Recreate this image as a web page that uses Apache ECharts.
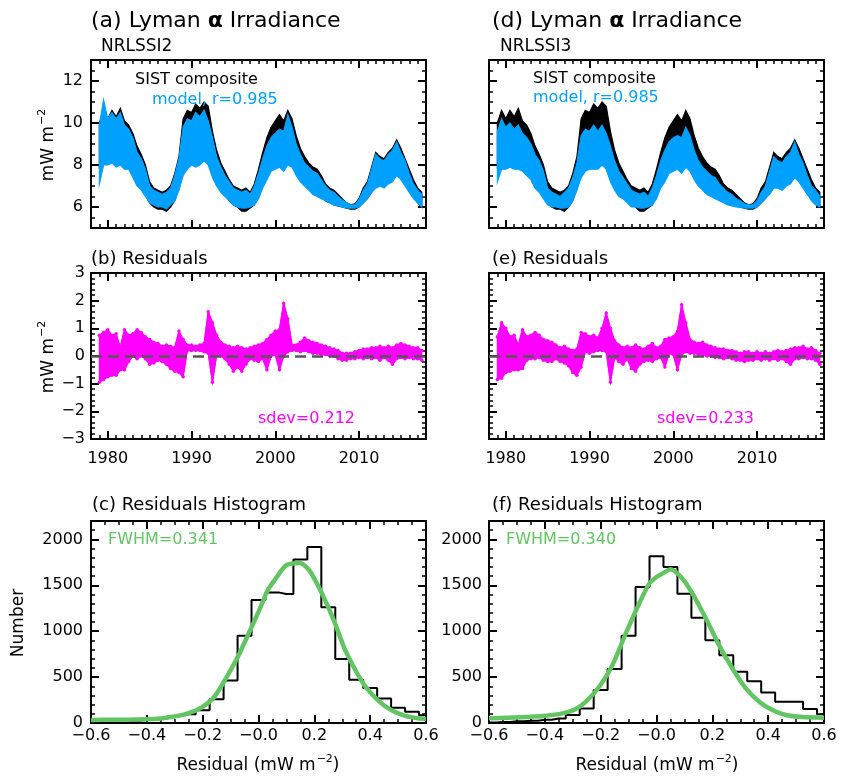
<!DOCTYPE html>
<html>
<head>
<meta charset="utf-8">
<script src="https://cdn.jsdelivr.net/npm/echarts@6/dist/echarts.min.js"></script>
<style>
html,body{margin:0;padding:0;background:#fff}
#chart{width:845px;height:778px}
</style>
</head>
<body>
<div id="chart"></div>
<script>
// Lyman alpha irradiance: SIST composite vs NRLSSI2 / NRLSSI3 models, residuals and residual histograms.
const FONT = '"DejaVu Sans", Verdana, sans-serif';
const BLUE = '#00a0ff', MAGENTA = '#ff00ff', GREEN = '#62c462';

// Half-year blocks starting 1979.0: upper and lower envelope of the daily values (mW m-2)
const BLOCK_START = 1979.0;
const BLOCK_STEP = 0.5;

const compositeHi = [
  10.0, 10.6, 10.2, 10.6, 10.3, 10.7, 10.1, 9.9, 9.5, 8.9,
  8.5, 8.0, 7.2, 6.9, 6.8, 6.7, 6.8, 7.0, 7.6, 8.4,
  10.2, 10.6, 10.5, 10.9, 10.7, 11.0, 10.8, 9.6, 8.7, 8.1,
  7.7, 7.3, 7.0, 6.9, 6.8, 6.9, 6.7, 7.1, 7.8, 8.6,
  9.3, 9.8, 10.1, 10.4, 10.1, 10.6, 10.2, 9.4, 8.8, 8.4,
  8.1, 7.9, 7.8, 7.5, 7.1, 6.9, 6.8, 6.6, 6.4, 6.2,
  6.1, 6.15, 6.4, 6.9, 7.2, 7.9, 8.6, 8.4, 8.3, 8.6,
  8.8, 9.2, 8.8, 8.3, 7.8, 7.3, 6.9, 6.7
];
const compositeLo = [
  7.9, 8.2, 8.1, 8.3, 8.0, 8.2, 8.0, 7.9, 7.6, 7.1,
  7.0, 6.6, 6.2, 6.0, 5.9, 5.9, 5.8, 6.0, 6.3, 6.9,
  7.6, 8.3, 8.3, 8.2, 8.3, 8.5, 8.3, 7.6, 7.2, 6.8,
  6.6, 6.3, 6.1, 6.0, 5.8, 5.8, 5.95, 6.1, 6.5, 7.0,
  7.5, 7.9, 8.0, 8.1, 7.9, 8.3, 8.2, 7.7, 7.3, 7.1,
  6.9, 6.8, 6.6, 6.5, 6.3, 6.2, 6.1, 6.05, 6.0, 5.95,
  5.9, 5.9, 6.0, 6.2, 6.4, 6.7, 7.0, 7.1, 7.0, 7.2,
  7.3, 7.6, 7.4, 7.1, 6.8, 6.5, 6.2, 6.0
];
const nrlssi2Hi = [
  9.9, 11.1, 10.2, 10.5, 10.2, 10.5, 9.9, 9.7, 9.3, 8.6,
  8.3, 7.8, 7.0, 6.8, 6.7, 6.6, 6.7, 6.9, 7.5, 8.3,
  9.8, 10.2, 10.1, 10.5, 10.3, 10.6, 10.1, 9.3, 8.4, 7.9,
  7.5, 7.2, 6.9, 6.8, 6.7, 6.8, 6.6, 7.0, 7.6, 8.3,
  8.9, 9.3, 9.5, 9.7, 9.6, 10.4, 9.8, 9.0, 8.5, 8.1,
  7.9, 7.7, 7.6, 7.3, 7.0, 6.8, 6.7, 6.5, 6.35, 6.2,
  6.1, 6.1, 6.35, 6.8, 7.1, 7.8, 8.5, 8.3, 8.2, 8.5,
  8.7, 9.1, 8.6, 8.2, 7.6, 7.1, 6.8, 6.6
];
const nrlssi2Lo = [
  7.1, 8.0, 8.0, 8.1, 7.9, 8.0, 7.8, 7.8, 7.4, 7.0,
  6.8, 6.5, 6.2, 6.1, 6.0, 6.0, 5.9, 6.1, 6.3, 6.8,
  7.5, 7.8, 8.0, 7.9, 8.0, 8.2, 8.0, 7.4, 7.0, 6.7,
  6.5, 6.3, 6.1, 6.0, 5.95, 5.95, 6.0, 6.1, 6.4, 6.9,
  7.3, 7.7, 7.8, 7.9, 7.7, 8.0, 7.9, 7.5, 7.2, 7.0,
  6.8, 6.6, 6.5, 6.4, 6.3, 6.2, 6.1, 6.05, 6.0, 5.95,
  5.95, 5.95, 6.0, 6.2, 6.4, 6.7, 6.9, 7.0, 6.9, 7.1,
  7.2, 7.5, 7.3, 7.0, 6.7, 6.4, 6.2, 6.0
];
const nrlssi3Hi = [
  9.6, 10.2, 9.8, 10.0, 9.7, 9.9, 9.5, 9.3, 9.0, 8.5,
  8.2, 7.7, 6.9, 6.7, 6.6, 6.5, 6.7, 6.9, 7.4, 8.1,
  9.4, 9.7, 9.6, 9.9, 9.6, 9.9, 9.5, 8.9, 8.2, 7.7,
  7.4, 7.1, 6.8, 6.7, 6.6, 6.7, 6.5, 6.9, 7.5, 8.2,
  8.7, 9.1, 9.3, 9.4, 9.3, 9.8, 9.4, 8.7, 8.2, 7.9,
  7.7, 7.5, 7.4, 7.1, 6.9, 6.7, 6.6, 6.4, 6.3, 6.15,
  6.1, 6.1, 6.3, 6.7, 7.0, 7.7, 8.4, 8.2, 8.1, 8.4,
  8.6, 9.1, 8.5, 8.1, 7.5, 7.0, 6.8, 6.5
];
const nrlssi3Lo = [
  7.2, 7.8, 7.8, 7.9, 7.8, 7.8, 7.7, 7.5, 7.3, 6.9,
  6.7, 6.4, 6.1, 6.0, 6.0, 5.95, 5.95, 6.0, 6.3, 6.8,
  7.4, 7.7, 7.8, 7.8, 7.8, 8.0, 7.8, 7.2, 6.8, 6.5,
  6.4, 6.2, 6.0, 6.0, 5.95, 5.95, 6.0, 6.1, 6.4, 6.9,
  7.2, 7.6, 7.7, 7.8, 7.6, 7.9, 7.7, 7.3, 7.0, 6.8,
  6.6, 6.5, 6.4, 6.3, 6.2, 6.1, 6.05, 6.0, 5.98, 5.95,
  5.95, 5.95, 6.0, 6.2, 6.4, 6.6, 6.9, 6.9, 6.8, 7.0,
  7.1, 7.4, 7.2, 6.9, 6.6, 6.3, 6.1, 6.0
];

// Residuals (composite minus model), same half-year blocks
const resid2Hi = [
  0.75, 0.85, 0.95, 0.75, 0.8, 0.3, 0.95, 0.75, 0.8, 0.95,
  0.85, 0.7, 0.6, 0.5, 0.45, 0.35, 0.4, 0.35, 0.3, 0.9,
  0.6, 0.4, 0.4, 0.35, 0.4, 0.45, 1.6, 1.2, 0.75, 0.5,
  0.4, 0.35, 0.3, 0.35, 0.3, 0.25, 0.3, 0.35, 0.4, 0.45,
  0.6, 0.75, 0.9, 0.95, 1.9, 1.35, 0.4, 0.4, 0.5, 0.65,
  0.55, 0.5, 0.45, 0.4, 0.35, 0.3, 0.25, 0.2, 0.1, 0.1,
  0.1, 0.15, 0.2, 0.25, 0.25, 0.3, 0.3, 0.35, 0.3, 0.35,
  0.3, 0.4, 0.45, 0.4, 0.35, 0.3, 0.3, 0.2
];
const resid2Lo = [
  -0.95, -0.85, -0.75, -0.7, -0.7, -0.5, -0.5, -0.2, 0.0, -0.1,
  0.0, -0.1, -0.3, -0.25, -0.15, -0.2, -0.3, -0.45, -0.55, -0.6,
  -0.75, 0.2, 0.2, 0.2, 0.2, 0.15, 0.1, -0.95, 0.05, 0.0,
  -0.1, -0.3, -0.55, -0.4, -0.55, -0.3, -0.1, -0.15, -0.2, -0.1,
  -0.5, 0.0, 0.05, -0.5, 0.0, 0.15, 0.2, 0.2, 0.15, 0.2,
  0.15, 0.1, 0.1, 0.05, 0.05, 0.0, 0.0, -0.1, -0.15, -0.15,
  -0.1, -0.1, -0.05, -0.1, -0.05, -0.1, -0.05, -0.15, -0.05, -0.15,
  -0.3, -0.1, -0.05, -0.1, -0.05, -0.1, -0.1, -0.15
];
const resid3Hi = [
  0.7, 1.2, 1.0, 0.7, 0.75, 0.4, 0.95, 0.7, 0.75, 0.85,
  0.75, 0.6, 0.55, 0.5, 0.4, 0.3, 0.35, 0.25, 0.2, 0.25,
  0.85, 0.8, 0.7, 0.75, 0.65, 1.0, 1.55, 1.0, 0.55, 0.4,
  0.3, 0.35, 0.3, 0.4, 0.3, 0.25, 0.35, 0.45, 0.3, 0.35,
  0.6, 0.65, 0.7, 0.9, 1.85, 1.2, 0.6, 0.5, 0.45, 0.5,
  0.4, 0.35, 0.3, 0.25, 0.25, 0.2, 0.2, 0.15, 0.1, 0.15,
  0.15, 0.1, 0.15, 0.1, 0.15, 0.1, 0.15, 0.2, 0.15, 0.2,
  0.25, 0.3, 0.3, 0.35, 0.25, 0.3, 0.2, 0.1
];
const resid3Lo = [
  -0.85, -0.8, -0.6, -0.55, -0.5, -0.5, -0.45, -0.15, -0.1, -0.1,
  -0.05, -0.15, -0.2, -0.2, -0.1, -0.2, -0.25, -0.35, -0.6, -0.7,
  -0.4, 0.15, 0.1, 0.15, 0.2, 0.2, 0.15, -0.95, -0.05, -0.2,
  -0.3, -0.1, -0.45, -0.55, -0.3, -0.2, -0.15, -0.2, -0.1, -0.05,
  -0.4, 0.1, 0.05, -0.5, 0.05, 0.15, 0.1, 0.1, 0.05, 0.05,
  0.0, 0.0, -0.05, -0.05, -0.1, -0.05, -0.1, -0.15, -0.15, -0.2,
  -0.15, -0.15, -0.1, -0.15, -0.1, -0.15, -0.1, -0.15, -0.1, -0.2,
  -0.3, -0.1, -0.1, -0.05, -0.1, -0.1, -0.15, -0.3
];

// Residual histograms (bin centres, counts) and fitted Gaussian curves
const histCenters = [
  -0.6, -0.55, -0.5, -0.45, -0.4, -0.35, -0.3, -0.25, -0.2, -0.15, -0.1, -0.05, 0.0,
  0.05, 0.1, 0.15, 0.2, 0.25, 0.3, 0.35, 0.4, 0.45, 0.5, 0.55, 0.6
];
const hist2Counts = [5, 10, 15, 25, 35, 50, 75, 95, 140, 260, 462, 950, 1340,
  1420, 1405, 1782, 1917, 1260, 698, 472, 380, 266, 165, 122, 85];
const hist3Counts = [5, 10, 20, 25, 35, 50, 87, 159, 359, 587, 949, 1482, 1815,
  1699, 1409, 1145, 902, 739, 558, 456, 333, 232, 232, 152, 94];

const fit2X = [-0.6, -0.49, -0.4, -0.35, -0.3, -0.253, -0.205, -0.158, -0.11, -0.074,
  -0.038, 0, 0.033, 0.057, 0.099, 0.147, 0.177, 0.2, 0.236, 0.272,
  0.308, 0.344, 0.379, 0.427, 0.475, 0.523, 0.57, 0.6];
const fit2Y = [33, 36, 40, 50, 72, 105, 167, 286, 522, 721,
  956, 1210, 1446, 1554, 1717, 1743, 1681, 1572, 1355, 1101,
  812, 594, 413, 250, 141, 80, 51, 43];
const fit3X = [-0.6, -0.492, -0.396, -0.337, -0.289, -0.253, -0.205, -0.158, -0.11, -0.062,
  -0.026, 0, 0.021, 0.051, 0.093, 0.129, 0.177, 0.224, 0.272, 0.32,
  0.368, 0.415, 0.463, 0.523, 0.6];
const fit3Y = [51, 62, 80, 105, 152, 232, 395, 630, 975, 1301,
  1518, 1590, 1627, 1674, 1572, 1409, 1138, 848, 594, 377,
  232, 141, 87, 65, 58];

// Tick values
const yearTicks = [1980, 1990, 2000, 2010];
const irradTicks = [6, 8, 10, 12];
const residTicks = [-3, -2, -1, 0, 1, 2, 3];
const histXTicks = [-0.6, -0.4, -0.2, 0, 0.2, 0.4, 0.6];
const histYTicks = [0, 500, 1000, 1500, 2000];

// ---------------------------------------------------------------------------
function steps(a, b, step) {
  const out = [];
  const n = Math.round((b - a) / step);
  for (let i = 0; i <= n; i++) out.push(+(a + i * step).toFixed(6));
  return out;
}
function blockTimes(n) {
  const out = [];
  for (let i = 0; i < n; i++) out.push(BLOCK_START + i * BLOCK_STEP);
  return out;
}
function pairs(xs, ys) { return xs.map((x, i) => [x, ys[i]]); }

const minus = v => (v < 0 ? '\u2212' + Math.abs(v) : String(v));
const histXFmt = v => (v <= 0 ? '\u2212' + Math.abs(v).toFixed(1) : v.toFixed(1));

const timeScale = { min: 1978, max: 2018, major: yearTicks, minor: steps(1978, 2018, 1), fmt: v => String(v) };
const irradScale = { min: 5, max: 13, major: irradTicks, minor: steps(5, 13, 0.5), fmt: v => String(v) };
const residScale = { min: -3, max: 3, major: residTicks, minor: steps(-3, 3, 0.2), fmt: minus };
const histXScale = { min: -0.6, max: 0.6, major: histXTicks, minor: steps(-0.6, 0.6, 0.05), fmt: histXFmt };
const histYScale = { min: 0, max: 2200, major: histYTicks, minor: steps(0, 2200, 100), fmt: v => String(v) };

const grids = [], xAxes = [], yAxes = [];

function axisDef(g, pos, s, major, labelOpt) {
  return {
    type: 'value', gridIndex: g, position: pos, min: s.min, max: s.max,
    silent: true,
    axisLine: { show: false, onZero: false },
    splitLine: { show: false },
    axisTick: {
      show: true, inside: true, length: major ? 8 : 4,
      customValues: major ? s.major : s.minor,
      lineStyle: { color: '#000', width: major ? 2 : 1.5 }
    },
    axisLabel: labelOpt ? Object.assign({
      show: true, customValues: s.major, formatter: s.fmt,
      fontSize: 16, fontFamily: FONT, color: '#000'
    }, labelOpt) : { show: false }
  };
}

function panel(rect, xs, ys, xLabel, yLabel) {
  const g = grids.length;
  grids.push({
    left: rect[0], top: rect[1], width: rect[2], height: rect[3],
    show: true, borderColor: '#000', borderWidth: 2, backgroundColor: 'transparent'
  });
  const xi = xAxes.length, yi = yAxes.length;
  xAxes.push(axisDef(g, 'bottom', xs, true, xLabel));
  xAxes.push(axisDef(g, 'bottom', xs, false, null));
  xAxes.push(axisDef(g, 'top', xs, true, null));
  xAxes.push(axisDef(g, 'top', xs, false, null));
  yAxes.push(axisDef(g, 'left', ys, true, yLabel));
  yAxes.push(axisDef(g, 'left', ys, false, null));
  yAxes.push(axisDef(g, 'right', ys, true, null));
  yAxes.push(axisDef(g, 'right', ys, false, null));
  return { xAxisIndex: xi, yAxisIndex: yi };
}

const pA = panel([91, 60, 335, 168], timeScale, irradScale, null, { margin: 8 });
const pD = panel([489, 60, 335, 168], timeScale, irradScale, null, null);
const pB = panel([91, 273, 335, 166], timeScale, residScale, { margin: 12 }, { margin: 6 });
const pE = panel([489, 273, 335, 166], timeScale, residScale, { margin: 12 }, null);
const pC = panel([91, 521, 335, 202], histXScale, histYScale, { margin: 5 }, { margin: 8 });
const pF = panel([489, 521, 335, 202], histXScale, histYScale, { margin: 5 }, { margin: 7 });

// Filled band between the lower and upper envelope of each half-year block,
// drawn as one polygon placed through the axes (api.coord).
function band(p, hi, lo, color, z) {
  const t = blockTimes(hi.length);
  const rows = t.map((x, i) => [x, hi[i], lo[i]]);
  return Object.assign({
    type: 'custom', data: rows, z, clip: true, silent: true,
    encode: { x: 0, y: [1, 2] },
    renderItem(params, api) {
      if (params.dataIndex !== 0) return null;
      const upper = rows.map(r => api.coord([r[0], r[1]]));
      const lower = rows.map(r => api.coord([r[0], r[2]])).reverse();
      return {
        type: 'polygon',
        shape: { points: upper.concat(lower) },
        style: { fill: color, stroke: color, lineWidth: 1.2, lineJoin: 'miter' }
      };
    }
  }, p);
}
// Upper / lower residual traces drawn with small point symbols
function edge(p, t, vals, zeroLine) {
  const s = Object.assign({
    type: 'line', data: pairs(t, vals), sampling: null,
    showSymbol: true, showAllSymbol: true, symbol: 'circle', symbolSize: 3.5,
    lineStyle: { color: MAGENTA, width: 1.2 }, itemStyle: { color: MAGENTA }, z: 4
  }, p);
  if (zeroLine) {
    s.markLine = {
      silent: true, symbol: 'none', label: { show: false },
      lineStyle: { color: '#555', width: 2.5, type: [11, 6] },
      data: [{ yAxis: 0 }]
    };
  }
  return s;
}
function residuals(p, hi, lo) {
  const t = blockTimes(hi.length);
  return [band(p, hi, lo, MAGENTA, 3), edge(p, t, hi, false), edge(p, t, lo, true)];
}
function histSeries(p, counts) {
  return Object.assign({
    type: 'line', step: 'middle', data: pairs(histCenters, counts), showSymbol: false,
    lineStyle: { color: '#000', width: 2 }, z: 3
  }, p);
}
function fitSeries(p, xs, ys) {
  return Object.assign({
    type: 'line', data: pairs(xs, ys), showSymbol: false, smooth: 0.25,
    lineStyle: { color: GREEN, width: 4.5 }, z: 4
  }, p);
}

const series = [].concat(
  [band(pA, compositeHi, compositeLo, '#000', 2), band(pA, nrlssi2Hi, nrlssi2Lo, BLUE, 3)],
  [band(pD, compositeHi, compositeLo, '#000', 2), band(pD, nrlssi3Hi, nrlssi3Lo, BLUE, 3)],
  residuals(pB, resid2Hi, resid2Lo),
  residuals(pE, resid3Hi, resid3Lo),
  [histSeries(pC, hist2Counts), fitSeries(pC, fit2X, fit2Y),
   histSeries(pF, hist3Counts), fitSeries(pF, fit3X, fit3Y)]
);

// Text annotations
function txt(x, y, text, size, fill) {
  return {
    type: 'text', x, y, z: 10,
    style: { text, fill: fill || '#000', font: size + 'px ' + FONT, align: 'left', verticalAlign: 'middle' }
  };
}
const unitRich = {
  u: { fontSize: 17, fontFamily: FONT, fill: '#000', verticalAlign: 'bottom', lineHeight: 24 },
  s: { fontSize: 11, fontFamily: FONT, fill: '#000', verticalAlign: 'bottom', lineHeight: 24, padding: [0, 0, 9, 1] }
};
function unitLabel(x, y, prefix, suffix, rotate) {
  return {
    type: 'text', x, y, rotation: rotate ? Math.PI / 2 : 0, z: 10,
    style: {
      text: '{u|' + prefix + 'mW m}{s|\u22122}' + (suffix ? '{u|' + suffix + '}' : ''),
      rich: unitRich, align: 'center', verticalAlign: 'middle'
    }
  };
}
const titleRich = { g: { fontSize: 22, fontFamily: FONT, fontWeight: 'bold', fill: '#000' } };

const graphic = [
  { type: 'text', x: 91, y: 21, z: 10, style: { text: '(a) Lyman {g|\u03b1} Irradiance', rich: titleRich, font: '22px ' + FONT, fill: '#000', verticalAlign: 'middle' } },
  { type: 'text', x: 492, y: 21, z: 10, style: { text: '(d) Lyman {g|\u03b1} Irradiance', rich: titleRich, font: '22px ' + FONT, fill: '#000', verticalAlign: 'middle' } },
  txt(101, 47, 'NRLSSI2', 17),
  txt(500, 47, 'NRLSSI3', 17),
  txt(135, 80, 'SIST composite', 16),
  txt(152, 100, 'model, r=0.985', 16, BLUE),
  txt(533, 79, 'SIST composite', 16),
  txt(533, 98, 'model, r=0.985', 16, BLUE),
  txt(91, 259, '(b) Residuals', 18),
  txt(492, 259, '(e) Residuals', 18),
  txt(258, 419, 'sdev=0.212', 16, MAGENTA),
  txt(657, 419, 'sdev=0.233', 16, MAGENTA),
  txt(92, 505, '(c) Residuals Histogram', 18),
  txt(492, 505, '(f) Residuals Histogram', 18),
  txt(108, 540, 'FWHM=0.341', 16, GREEN),
  txt(506, 540, 'FWHM=0.340', 16, GREEN),
  unitLabel(45, 145, '', '', true),
  unitLabel(45, 357, '', '', true),
  unitLabel(258, 762, 'Residual (', ')', false),
  unitLabel(657, 762, 'Residual (', ')', false),
  { type: 'text', x: 19, y: 623, rotation: Math.PI / 2, z: 10,
    style: { text: 'Number', font: '17px ' + FONT, fill: '#000', align: 'center', verticalAlign: 'middle' } }
];

const chart = echarts.init(document.getElementById('chart'), null, { renderer: 'canvas' });
chart.setOption({
  backgroundColor: '#fff',
  animation: false,
  grid: grids,
  xAxis: xAxes,
  yAxis: yAxes,
  series,
  graphic
});
</script>
</body>
</html>
